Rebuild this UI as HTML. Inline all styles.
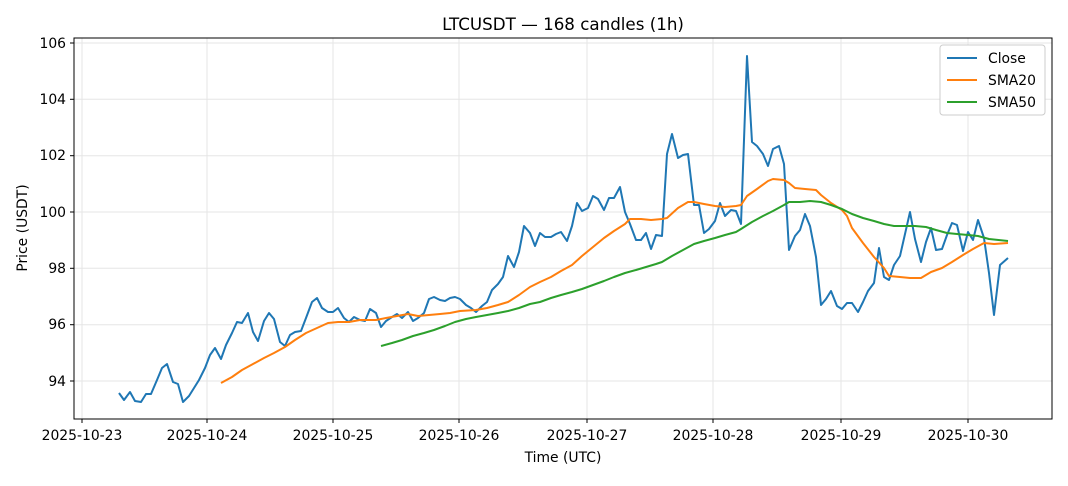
<!DOCTYPE html>
<html><head><meta charset="utf-8"><style>
body{margin:0;background:#fff}
svg text{font-family:"DejaVu Sans","Liberation Sans",sans-serif;fill:#000}
</style></head><body>
<svg width="1068" height="481" viewBox="0 0 1068 481" xmlns="http://www.w3.org/2000/svg">
<rect width="1068" height="481" fill="#fff"/>
<text x="563" y="30" font-size="16.7" text-anchor="middle">LTCUSDT — 168 candles (1h)</text>
<g stroke="#e5e5e5" stroke-width="1">
<line x1="74" x2="1052" y1="43" y2="43"/><line x1="74" x2="1052" y1="99.3" y2="99.3"/><line x1="74" x2="1052" y1="155.7" y2="155.7"/><line x1="74" x2="1052" y1="212" y2="212"/><line x1="74" x2="1052" y1="268.3" y2="268.3"/><line x1="74" x2="1052" y1="324.7" y2="324.7"/><line x1="74" x2="1052" y1="381" y2="381"/>
<line y1="38" y2="419" x1="82" x2="82"/><line y1="38" y2="419" x1="207" x2="207"/><line y1="38" y2="419" x1="333" x2="333"/><line y1="38" y2="419" x1="459" x2="459"/><line y1="38" y2="419" x1="587" x2="587"/><line y1="38" y2="419" x1="713" x2="713"/><line y1="38" y2="419" x1="841" x2="841"/><line y1="38" y2="419" x1="968" x2="968"/>
</g>
<g fill="none" stroke-width="2" stroke-linejoin="round">
<polyline stroke="#1f77b4" points="119,393 124,400 130,392 135,401 141,402 146,394 151,394 157,380 162,368 167,364 173,382 178,384 183,402 189,396 194,388 199,380 205,368 210,355 215,348 221,359 226,345 232,333 237,322 242,323 248,313 253,332 258,341 264,321 269,313 274,319 280,342 285,346 290,335 295,332 301,331 306,318 312,302 317,298 322,308 328,312 333,312 338,308 344,318 349,322 354,317 360,320 365,321 370,309 376,313 381,327 386,321 392,317 397,314 402,318 408,312 413,321 418,318 424,313 429,299 434,297 440,300 445,301 450,298 455,297 460,299 466,305 471,308 476,312 482,306 487,302 492,290 498,284 503,277 508,256 514,267 519,252 524,226 530,233 535,246 540,233 545,237 551,237 556,234 561,232 567,241 572,226 577,203 582,211 588,208 593,196 598,199 604,210 609,198 614,198 620,187 625,212 630,224 636,240 641,240 646,233 651,249 656,235 662,236 667,154 672,134 678,158 683,155 688,154 694,205 699,205 704,233 709,229 715,221 720,203 725,216 731,210 736,211 741,224 747,56 752,142 757,146 763,154 768,166 773,149 779,146 784,164 789,250 795,236 800,230 805,214 810,226 816,257 821,305 826,299 831,291 837,306 842,309 847,303 852,303 858,312 863,302 868,291 874,283 879,248 884,277 889,280 894,265 900,256 905,234 910,212 915,239 921,262 926,242 931,228 936,250 942,249 947,235 952,223 957,225 963,251 968,232 973,240 978,220 984,238 989,273 994,315 1000,265 1008,258"/>
<polyline stroke="#ff7f0e" points="221,383 232,377 242,370 253,364 264,358 274,353 285,347 295,340 306,333 317,328 328,323 338,322 349,322 360,320 376,320 386,318 397,316 408,314 418,316 429,315 440,314 450,313 460,311 476,310 487,308 498,305 508,302 519,295 530,287 540,282 551,277 561,271 572,265 582,256 593,247 604,238 614,231 625,224 630,219 641,219 651,220 662,219 667,218 678,208 688,202 694,202 704,204 715,206 725,207 736,206 741,205 747,196 757,189 768,181 773,179 784,180 789,183 795,188 805,189 816,190 821,195 831,203 842,210 847,216 852,228 863,243 874,257 884,268 889,276 900,277 910,278 921,278 931,272 942,268 952,262 963,255 973,249 984,243 994,244 1008,243"/>
<polyline stroke="#2ca02c" points="381,346 392,343 402,340 413,336 424,333 434,330 445,326 455,322 466,319 476,317 487,315 498,313 508,311 519,308 530,304 540,302 551,298 561,295 572,292 582,289 593,285 604,281 614,277 625,273 636,270 646,267 656,264 662,262 672,256 683,250 694,244 704,241 715,238 725,235 736,232 741,229 752,222 763,216 773,211 784,205 789,202 800,202 810,201 821,202 831,205 842,209 852,214 863,218 874,221 884,224 894,226 905,226 915,226 926,227 936,230 947,233 957,234 968,235 978,236 989,239 1008,241"/>
</g>
<rect x="74" y="38" width="978" height="381" fill="none" stroke="#000" stroke-width="1"/>
<g stroke="#000"><line x1="70" x2="74" y1="43" y2="43"/><line x1="70" x2="74" y1="99.3" y2="99.3"/><line x1="70" x2="74" y1="155.7" y2="155.7"/><line x1="70" x2="74" y1="212" y2="212"/><line x1="70" x2="74" y1="268.3" y2="268.3"/><line x1="70" x2="74" y1="324.7" y2="324.7"/><line x1="70" x2="74" y1="381" y2="381"/>
<line y1="419" y2="423" x1="82" x2="82"/><line y1="419" y2="423" x1="207" x2="207"/><line y1="419" y2="423" x1="333" x2="333"/><line y1="419" y2="423" x1="459" x2="459"/><line y1="419" y2="423" x1="587" x2="587"/><line y1="419" y2="423" x1="713" x2="713"/><line y1="419" y2="423" x1="841" x2="841"/><line y1="419" y2="423" x1="968" x2="968"/></g>
<g font-size="13.9" text-anchor="end"><text x="66" y="48">106</text><text x="66" y="104">104</text><text x="66" y="160">102</text><text x="66" y="217">100</text><text x="66" y="273">98</text><text x="66" y="329">96</text><text x="66" y="386">94</text></g>
<g font-size="13.9" text-anchor="middle"><text x="82" y="440">2025-10-23</text><text x="207" y="440">2025-10-24</text><text x="333" y="440">2025-10-25</text><text x="459" y="440">2025-10-26</text><text x="587" y="440">2025-10-27</text><text x="713" y="440">2025-10-28</text><text x="841" y="440">2025-10-29</text><text x="968" y="440">2025-10-30</text></g>
<text x="563" y="462" font-size="13.9" text-anchor="middle">Time (UTC)</text>
<text x="27" y="228" font-size="13.9" text-anchor="middle" transform="rotate(-90 27 228)">Price (USDT)</text>
<rect x="940" y="45" width="105" height="70" rx="3" fill="#fff" stroke="#ccc"/>
<g stroke-width="2"><line x1="947" x2="977" y1="58" y2="58" stroke="#1f77b4"/><line x1="947" x2="977" y1="80" y2="80" stroke="#ff7f0e"/><line x1="947" x2="977" y1="102" y2="102" stroke="#2ca02c"/></g>
<g font-size="13.9"><text x="988" y="63">Close</text><text x="988" y="85">SMA20</text><text x="988" y="107">SMA50</text></g>
</svg>
</body></html>
